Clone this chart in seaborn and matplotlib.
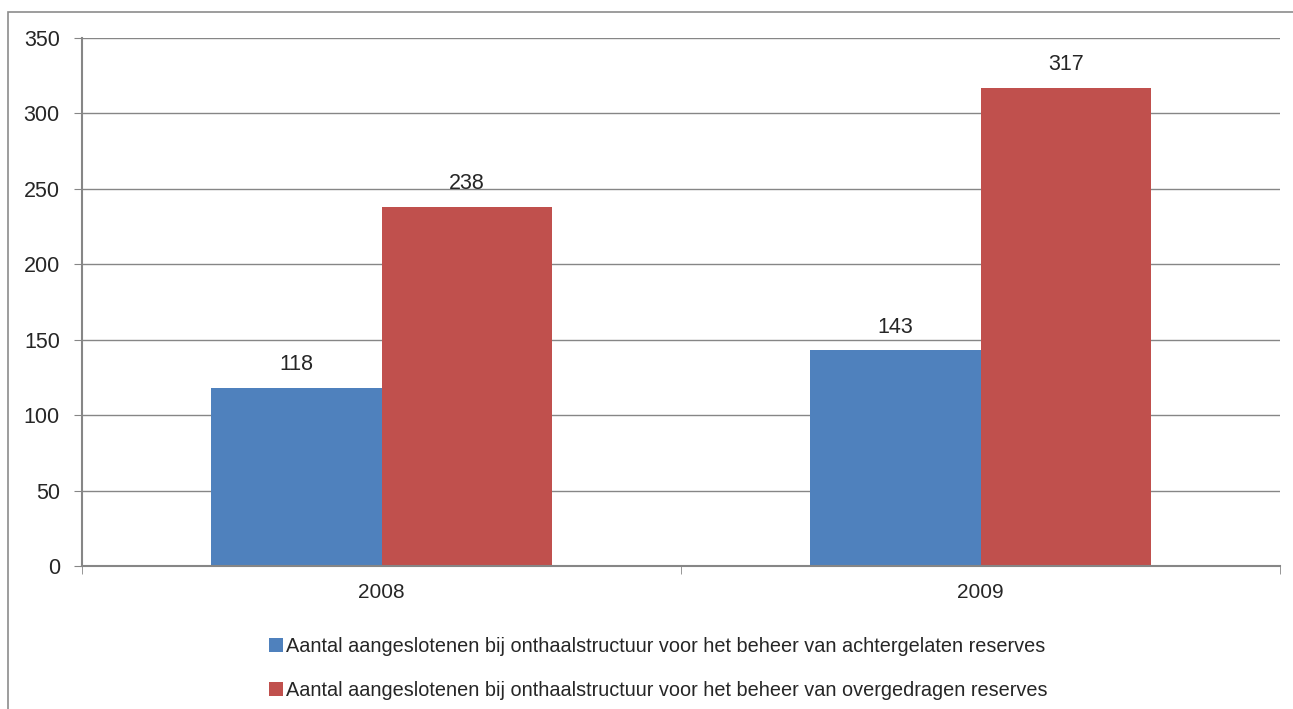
import matplotlib
matplotlib.use('Agg')
import matplotlib.pyplot as plt
from matplotlib.patches import Rectangle
import seaborn as sns
import pandas as pd

years = ['2008', '2009']
series = ['Aantal aangeslotenen bij onthaalstructuur voor het beheer van achtergelaten reserves',
          'Aantal aangeslotenen bij onthaalstructuur voor het beheer van overgedragen reserves']
achtergelaten = [118, 143]
overgedragen = [238, 317]
colors = ['#4F81BD', '#C0504D']

df = pd.DataFrame({
    'jaar': years * 2,
    'reeks': [series[0]] * 2 + [series[1]] * 2,
    'aantal': achtergelaten + overgedragen,
})

sns.set_style('white')
plt.rcParams['font.family'] = ['Liberation Sans', 'DejaVu Sans']

fig = plt.figure(figsize=(12.93, 7.09), dpi=100)
ax = fig.add_axes([82 / 1293, 1 - 566 / 709, (1280 - 82) / 1293, (566 - 38) / 709])

# Outer chart border (only top and left visible in the original).
fig.patches.append(Rectangle((8 / 1293, -0.1), 1.2, 1 - 12 / 709 + 0.1, transform=fig.transFigure,
                             fill=False, edgecolor='#8c8c8c', linewidth=1.2))

sns.barplot(data=df, x='jaar', y='aantal', hue='reeks', palette=colors, width=0.57,
            saturation=1, linewidth=0, ax=ax, legend=True)

for c in ax.containers:
    ax.bar_label(c, padding=9, fontsize=15.5)

ax.set_ylim(0, 350)
ax.set_xlim(-0.5, 1.5)
ax.set_yticks(range(0, 351, 50))
ax.yaxis.grid(True, color='#868686', linewidth=1)
ax.set_axisbelow(True)
ax.set_xlabel('')
ax.set_ylabel('')
for s in ['top', 'right']:
    ax.spines[s].set_visible(False)
for s in ['left', 'bottom']:
    ax.spines[s].set_color('#868686')
    ax.spines[s].set_linewidth(1.5)

ax.tick_params(axis='y', length=6, color='#868686', labelsize=15.5, pad=10, left=True)
ax.tick_params(axis='x', length=0, labelsize=15, pad=12)
ax.set_xticks([-0.5, 0.5, 1.5], minor=True)
ax.tick_params(axis='x', which='minor', length=6, color='#868686', bottom=True)

ax.legend(loc='upper center', bbox_to_anchor=(0.481, -0.12), ncol=1, frameon=False,
          fontsize=14.3, handlelength=0.7, handleheight=0.7, handletextpad=0.15,
          labelspacing=1.25, borderaxespad=0)

fig.savefig('out.png', dpi=100)
